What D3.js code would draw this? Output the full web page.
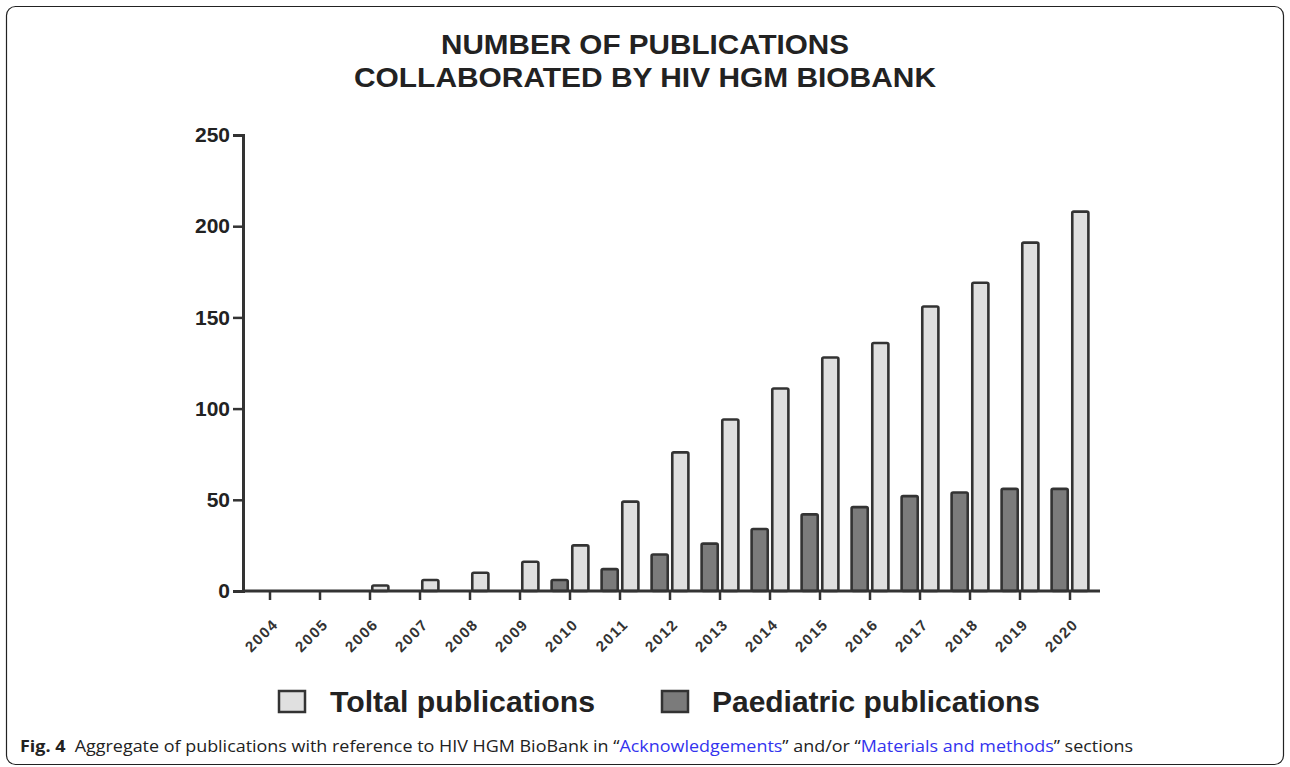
<!DOCTYPE html>
<html><head><meta charset="utf-8">
<script src="https://cdn.jsdelivr.net/npm/d3@7"></script>
<style>html,body{margin:0;padding:0;background:#fff;}svg{display:block;}</style>
</head><body>
<svg id="chart" width="1290" height="767"></svg>
<script>
const years = ["2004","2005","2006","2007","2008","2009","2010","2011","2012","2013","2014","2015","2016","2017","2018","2019","2020"];
const totalPubs = [0,0,3,6,10,16,25,49,76,94,111,128,136,156,169,191,208];
const paedPubs = [0,0,0,0,0,0,6,12,20,26,34,42,46,52,54,56,56];
const yTicks = [0,50,100,150,200,250];
const seriesNames = ["Toltal publications","Paediatric publications"];
const titleLines = ["NUMBER OF PUBLICATIONS","COLLABORATED BY HIV HGM BIOBANK"];

const svg = d3.select("#chart");
const narrow = "'Liberation Sans Narrow','Arial Narrow','Liberation Sans',Arial,sans-serif";
const dark = "#333";

// frame
svg.append("rect").attr("x",6.5).attr("y",6.5).attr("width",1277).attr("height",758)
  .attr("rx",9).attr("fill","none").attr("stroke","#222").attr("stroke-width",1.2);

// title
const tW = [408, 582];
titleLines.forEach((t,i)=>{
  svg.append("text").attr("x",645).attr("y",54+i*33).attr("text-anchor","middle")
    .attr("font-family",narrow).attr("font-weight","bold").attr("font-size",28.5)
    .attr("fill","#222").attr("textLength",tW[i]).attr("lengthAdjust","spacingAndGlyphs").text(t);
});

const y = d3.scaleLinear().domain([0,250]).range([591,135]);
const x0 = d3.scaleBand().domain(years).range([245,1095]);
const x1 = d3.scaleBand().domain(["paed","total"]).range([0,x0.bandwidth()]).paddingInner(0.22).paddingOuter(0.32);

// bars
const g = svg.append("g");
years.forEach((yr,i)=>{
  const grp = [{k:"paed",v:paedPubs[i],f:"#7b7b7b"},{k:"total",v:totalPubs[i],f:"#e0e0e0"}];
  grp.forEach(d=>{
    if(d.v<=0) return;
    g.append("rect").attr("x",x0(yr)+x1(d.k)).attr("y",y(d.v))
      .attr("width",x1.bandwidth()).attr("height",y(0)-y(d.v))
      .attr("fill",d.f).attr("stroke",dark).attr("stroke-width",2.6).attr("rx",1.5);
  });
});

// y axis
const yAxis = svg.append("g").attr("transform","translate(243,0)")
  .call(d3.axisLeft(y).tickValues(yTicks).tickSize(10).tickPadding(3));
yAxis.select(".domain").attr("stroke",dark).attr("stroke-width",3);
yAxis.selectAll(".tick line").attr("stroke",dark).attr("stroke-width",2.5);
yAxis.selectAll(".tick text").attr("font-family",narrow).attr("font-weight","bold")
  .attr("font-size",21).attr("fill","#222");

// x axis
const xAxis = svg.append("g").attr("transform","translate(0,591)")
  .call(d3.axisBottom(x0).tickSize(9).tickSizeOuter(0).tickPadding(4));
xAxis.select(".domain").attr("stroke",dark).attr("stroke-width",3).attr("d","M243,0H1100");
xAxis.selectAll(".tick line").attr("stroke",dark).attr("stroke-width",2.5);
xAxis.selectAll(".tick text").attr("font-family",narrow).attr("font-weight","bold")
  .attr("font-size",15).attr("fill","#333").attr("text-anchor","end")
  .attr("dy","0").attr("transform","translate(0,25) rotate(-45)")
  .attr("letter-spacing","1.5");

// legend
const leg = [{name:seriesNames[0],f:"#e0e0e0",x:279,tx:330,w:265},{name:seriesNames[1],f:"#7b7b7b",x:662,tx:712,w:328}];
leg.forEach(d=>{
  svg.append("rect").attr("x",d.x).attr("y",691).attr("width",26).attr("height",21)
    .attr("fill",d.f).attr("stroke",dark).attr("stroke-width",2.5);
  svg.append("text").attr("x",d.tx).attr("y",712).attr("font-family","'Liberation Sans',Arial,sans-serif")
    .attr("font-weight","bold").attr("font-size",29).attr("fill","#222")
    .attr("textLength",d.w).attr("lengthAdjust","spacingAndGlyphs").text(d.name);
});

// caption
const cap = svg.append("text").attr("x",20).attr("y",752).attr("font-family","'Open Sans','Noto Sans',sans-serif")
  .attr("font-size",16).attr("fill","#222").attr("textLength",1113).attr("lengthAdjust","spacingAndGlyphs");
cap.append("tspan").attr("font-weight","bold").text("Fig. 4");
cap.append("tspan").text("\u00a0\u00a0Aggregate of publications with reference to HIV HGM BioBank in \u201c");
cap.append("tspan").attr("fill","#3333ee").text("Acknowledgements");
cap.append("tspan").text("\u201d and/or \u201c");
cap.append("tspan").attr("fill","#3333ee").text("Materials and methods");
cap.append("tspan").text("\u201d sections");
</script>
</body></html>
